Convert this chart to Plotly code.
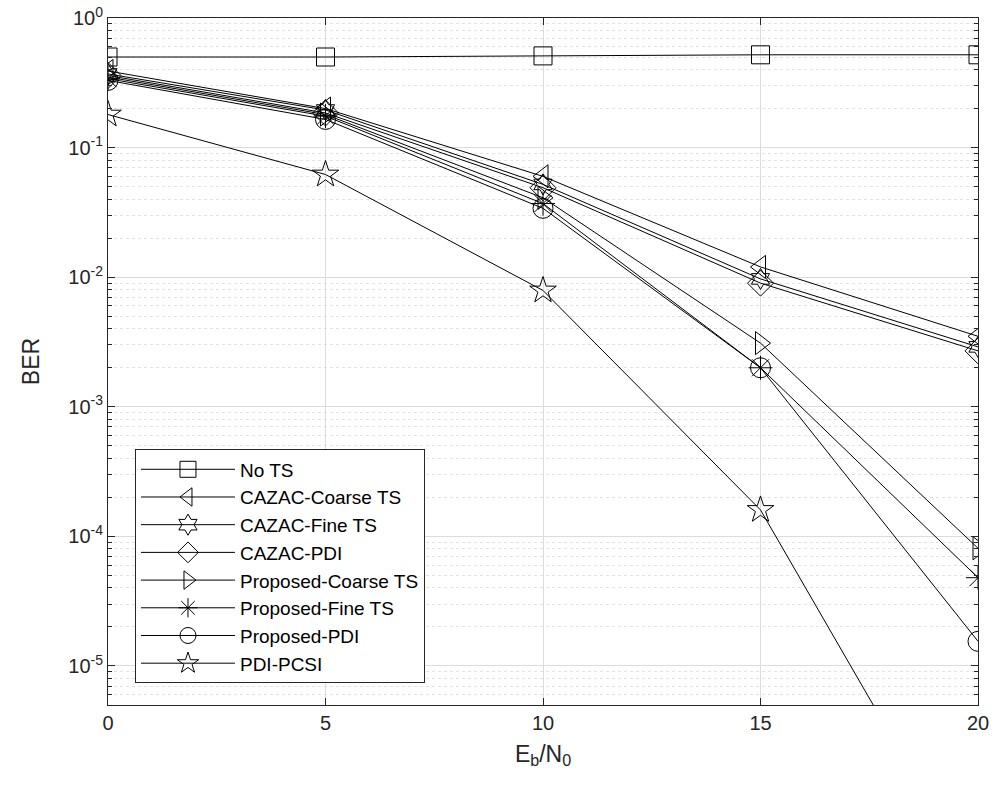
import plotly.graph_objects as go

snr = [0, 5, 10, 15, 20]

series_names = ["No TS", "CAZAC-Coarse TS", "CAZAC-Fine TS", "CAZAC-PDI",
                "Proposed-Coarse TS", "Proposed-Fine TS", "Proposed-PDI", "PDI-PCSI"]

ber_no_ts = [0.50, 0.50, 0.51, 0.52, 0.52]
ber_cazac_coarse = [0.39, 0.20, 0.060, 0.0120, 0.0035]
ber_cazac_fine = [0.37, 0.195, 0.052, 0.0097, 0.0029]
ber_cazac_pdi = [0.36, 0.185, 0.049, 0.0090, 0.0027]
ber_prop_coarse = [0.35, 0.18, 0.041, 0.0031, 0.000081]
ber_prop_fine = [0.34, 0.175, 0.037, 0.0020, 0.000048]
ber_prop_pdi = [0.33, 0.165, 0.034, 0.0020, 0.0000155]
ber_pdi_pcsi = [0.18, 0.062, 0.0079, 0.00016, 0.0000002]

series_values = [ber_no_ts, ber_cazac_coarse, ber_cazac_fine, ber_cazac_pdi,
                 ber_prop_coarse, ber_prop_fine, ber_prop_pdi, ber_pdi_pcsi]

symbols = ["square-open", "triangle-left-open", "hexagram-open", "diamond-open",
           "triangle-right-open", "asterisk-open", "circle-open", "star-open"]
sizes = [18, 20, 16, 20, 20, 20, 20, 20]

y_tick_vals = [1, 1e-1, 1e-2, 1e-3, 1e-4, 1e-5]
y_tick_text = ["10<sup>0</sup>", "10<sup>-1</sup>", "10<sup>-2</sup>",
               "10<sup>-3</sup>", "10<sup>-4</sup>", "10<sup>-5</sup>"]

minor_vals = [k * 10.0 ** e for e in range(-6, 0) for k in range(2, 10)]

fig = go.Figure()
for name, vals, sym, sz in zip(series_names, series_values, symbols, sizes):
    fig.add_trace(go.Scatter(
        x=snr, y=vals, name=name, mode="lines+markers",
        line=dict(color="black", width=1),
        marker=dict(symbol=sym, size=sz, color="black",
                    line=dict(color="black", width=1)),
        cliponaxis=True,
    ))

font_family = "Liberation Sans, Arial, sans-serif"

fig.update_layout(
    width=998, height=789,
    margin=dict(l=108, r=20, t=18, b=84, autoexpand=False),
    paper_bgcolor="white", plot_bgcolor="white",
    font=dict(family=font_family, color="#262626", size=20),
    showlegend=True,
    legend=dict(
        x=0.031, y=0.372, xanchor="left", yanchor="top",
        bgcolor="white", bordercolor="#262626", borderwidth=1,
        font=dict(size=19, color="black", family=font_family),
        tracegroupgap=0, itemwidth=94,
    ),
    xaxis=dict(
        range=[0, 20], tickvals=[0, 5, 10, 15, 20],
        showline=True, linecolor="#262626", linewidth=1, mirror="ticks",
        ticks="inside", ticklen=7, tickcolor="#262626",
        showgrid=True, gridcolor="#dcdcdc", gridwidth=1,
        zeroline=False, automargin=False, ticklabeloverflow="allow",
        title=dict(text="E<sub>b</sub>/N<sub>0</sub>", font=dict(size=23), standoff=12),
        tickfont=dict(size=20),
    ),
    yaxis=dict(
        type="log", range=[-5.301, 0],
        tickvals=y_tick_vals, ticktext=y_tick_text,
        showline=True, linecolor="#262626", linewidth=1, mirror="ticks",
        ticks="inside", ticklen=7, tickcolor="#262626",
        showgrid=True, gridcolor="#dcdcdc", gridwidth=1,
        zeroline=False, automargin=False, ticklabeloverflow="allow",
        minor=dict(tickvals=minor_vals, ticks="inside", ticklen=4,
                   tickcolor="#262626", showgrid=True,
                   gridcolor="#e2e2e2", griddash="dot", gridwidth=1),
        title=dict(text="BER", font=dict(size=23), standoff=22),
        tickfont=dict(size=20),
    ),
)

fig.write_html("out.html", config={"displayModeBar": False},
               post_script="document.body.style.margin='0px';")
